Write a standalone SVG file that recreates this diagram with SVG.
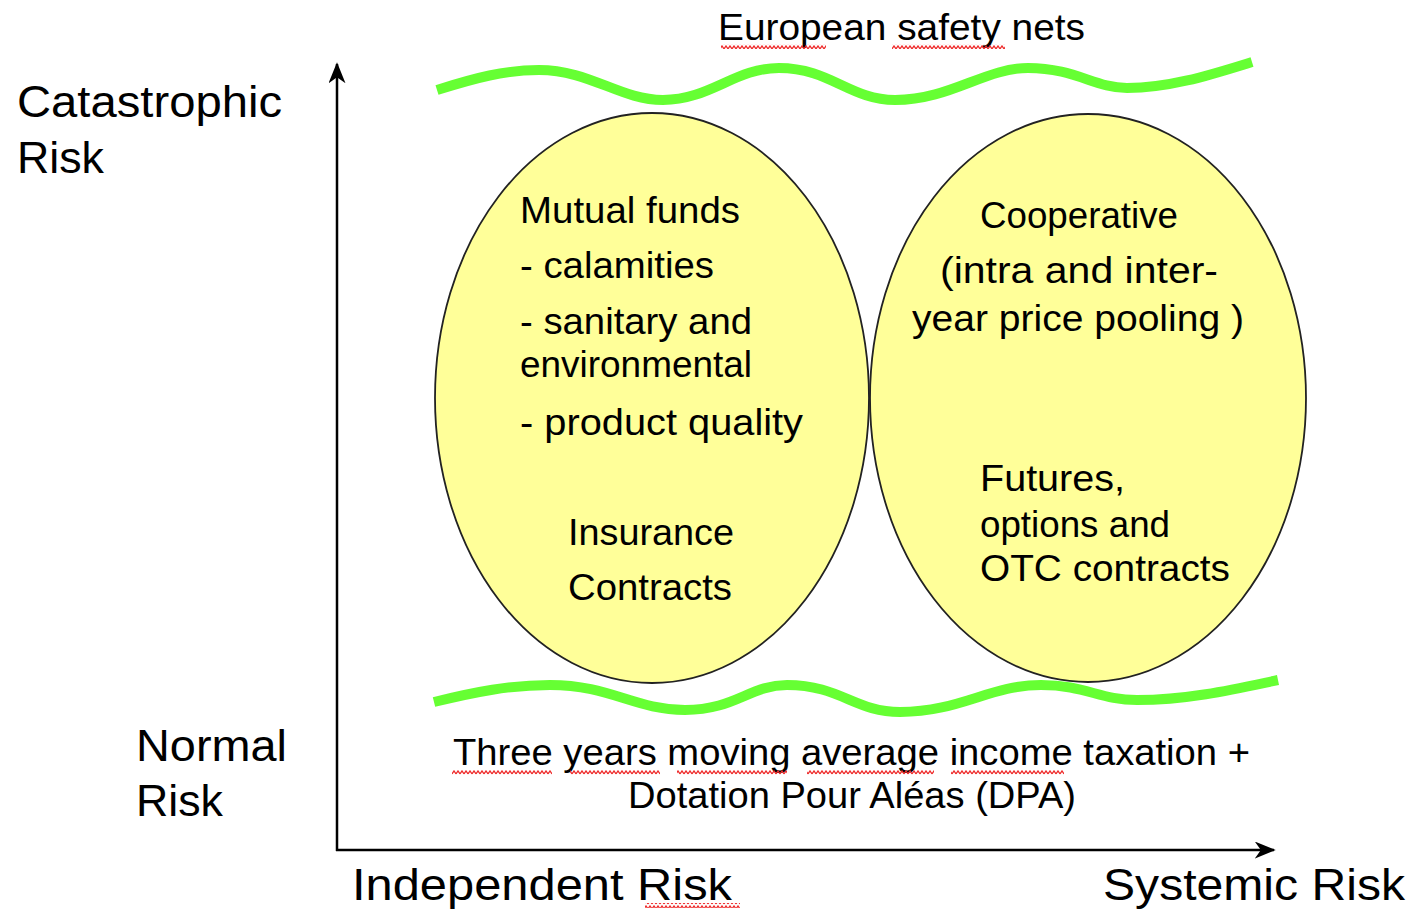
<svg xmlns="http://www.w3.org/2000/svg" width="1412" height="911" viewBox="0 0 1412 911">
  <style>
    text { font-family: "Liberation Sans", "DejaVu Sans", sans-serif; fill: #000; }
    .ax { font-size: 44px; }
    .in { font-size: 36px; }
    .bub { fill: #FFFF99; stroke: #222; stroke-width: 1.8; }
    .net { fill: none; stroke: #66FF33; stroke-width: 10; }
    .axis { stroke: #000; stroke-width: 2.5; fill: none; }
  </style>
  <defs>
    <marker id="arr" viewBox="0 0 12 12" refX="11" refY="6" markerWidth="21" markerHeight="17" markerUnits="userSpaceOnUse" orient="auto" preserveAspectRatio="none">
      <path d="M0,0 L12,6 L0,12 L3.5,6 z" fill="#000"/>
    </marker>
    <pattern id="sq" x="0" y="0" width="4" height="5" patternUnits="userSpaceOnUse">
      <path d="M0,4 L2,1 L4,4" fill="none" stroke="#ee2a2a" stroke-width="1.3"/>
    </pattern>
  </defs>

  <rect width="1412" height="911" fill="#fff"/>

  <g id="connectors">
    <line class="axis" x1="337" y1="851" x2="337" y2="64" marker-end="url(#arr)"/>
    <line class="axis" x1="336" y1="850" x2="1274" y2="850" marker-end="url(#arr)"/>
  </g>

  <g id="mutual-funds">
    <ellipse class="bub" cx="652" cy="398" rx="217" ry="285"/>
    <text class="in" x="520" y="223" textLength="220" lengthAdjust="spacingAndGlyphs">Mutual funds</text>
    <text class="in" x="520" y="278" textLength="194" lengthAdjust="spacingAndGlyphs">- calamities</text>
    <text class="in" x="520" y="334" textLength="232" lengthAdjust="spacingAndGlyphs">- sanitary and</text>
    <text class="in" x="520" y="377" textLength="232" lengthAdjust="spacingAndGlyphs">environmental</text>
    <text class="in" x="520" y="435" textLength="283" lengthAdjust="spacingAndGlyphs">- product quality</text>
    <text class="in" x="568" y="545" textLength="166" lengthAdjust="spacingAndGlyphs">Insurance</text>
    <text class="in" x="568" y="600" textLength="164" lengthAdjust="spacingAndGlyphs">Contracts</text>
  </g>

  <g id="cooperative">
    <ellipse class="bub" cx="1088" cy="398" rx="218" ry="284"/>
    <text class="in" x="980" y="228" textLength="198" lengthAdjust="spacingAndGlyphs">Cooperative</text>
    <text class="in" x="940" y="283" textLength="278" lengthAdjust="spacingAndGlyphs">(intra and inter-</text>
    <text class="in" x="912" y="331" textLength="332" lengthAdjust="spacingAndGlyphs">year price pooling )</text>
    <text class="in" x="980" y="491" textLength="145" lengthAdjust="spacingAndGlyphs">Futures,</text>
    <text class="in" x="980" y="537" textLength="190" lengthAdjust="spacingAndGlyphs">options and</text>
    <text class="in" x="980" y="581" textLength="250" lengthAdjust="spacingAndGlyphs">OTC contracts</text>
  </g>

  <g id="european-safety-nets">
    <path class="net" d="M437,90 C475,78 505,70 539,70 C590,70 620,100 663,100 C710,100 735,68 779,68 C830,68 850,100 895,100 C950,100 985,68 1028,68 C1075,68 1095,88 1127,88 C1170,88 1210,75 1252,62"/>
    <text class="in" x="718" y="40" textLength="367" lengthAdjust="spacingAndGlyphs">European safety nets</text>
    <rect x="721" y="44" width="105" height="5" fill="url(#sq)"/>
    <rect x="892" y="44" width="113" height="5" fill="url(#sq)"/>
  </g>

  <g id="national-tools">
    <path class="net" d="M434,702 C475,692 510,685 550,685 C610,685 635,710 685,710 C735,710 750,685 787,685 C840,685 855,712 900,712 C960,712 990,685 1041,685 C1085,685 1100,700 1137,700 C1190,700 1240,688 1278,680"/>
    <text class="in" x="453" y="765" textLength="797" lengthAdjust="spacingAndGlyphs">Three years moving average income taxation +</text>
    <text class="in" x="628" y="808" textLength="448" lengthAdjust="spacingAndGlyphs">Dotation Pour Aléas (DPA)</text>
    <rect x="452" y="770" width="100" height="5" fill="url(#sq)"/>
    <rect x="570" y="770" width="90" height="5" fill="url(#sq)"/>
    <rect x="677" y="770" width="110" height="5" fill="url(#sq)"/>
    <rect x="807" y="770" width="127" height="5" fill="url(#sq)"/>
    <rect x="951" y="770" width="113" height="5" fill="url(#sq)"/>
  </g>

  <g id="axis-labels">
    <text class="ax" x="17" y="117" textLength="265" lengthAdjust="spacingAndGlyphs">Catastrophic</text>
    <text class="ax" x="17" y="173" textLength="87" lengthAdjust="spacingAndGlyphs">Risk</text>
    <text class="ax" x="136" y="761" textLength="151" lengthAdjust="spacingAndGlyphs">Normal</text>
    <text class="ax" x="136" y="816" textLength="87" lengthAdjust="spacingAndGlyphs">Risk</text>
    <text class="ax" x="352" y="900" textLength="380" lengthAdjust="spacingAndGlyphs">Independent Risk</text>
    <rect x="645" y="903" width="95" height="5" fill="url(#sq)"/>
    <text class="ax" x="1103" y="900" textLength="302" lengthAdjust="spacingAndGlyphs">Systemic Risk</text>
  </g>
</svg>
